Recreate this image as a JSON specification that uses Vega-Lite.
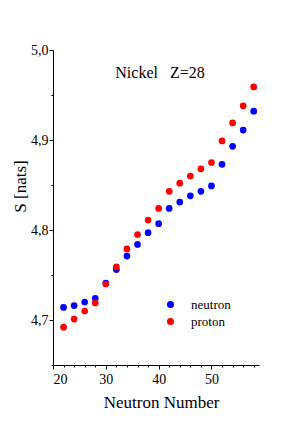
{
  "$schema": "https://vega.github.io/schema/vega-lite/v6.json",
  "autosize": {"type": "none"},
  "width": 206,
  "height": 315,
  "padding": {"left": 53, "top": 50, "right": 41, "bottom": 72},
  "background": "white",
  "title": {
    "text": "Nickel\u00a0\u00a0\u00a0Z=28",
    "font": "Liberation Serif",
    "fontSize": 16,
    "fontWeight": "normal",
    "color": "black",
    "anchor": "middle",
    "offset": -38,
    "dx": 4
  },
  "data": {
    "values": [
      {"N": 22, "S": 4.714, "type": "neutron"},
      {"N": 24, "S": 4.716, "type": "neutron"},
      {"N": 26, "S": 4.720, "type": "neutron"},
      {"N": 28, "S": 4.724, "type": "neutron"},
      {"N": 30, "S": 4.741, "type": "neutron"},
      {"N": 32, "S": 4.756, "type": "neutron"},
      {"N": 34, "S": 4.771, "type": "neutron"},
      {"N": 36, "S": 4.784, "type": "neutron"},
      {"N": 38, "S": 4.797, "type": "neutron"},
      {"N": 40, "S": 4.807, "type": "neutron"},
      {"N": 42, "S": 4.824, "type": "neutron"},
      {"N": 44, "S": 4.831, "type": "neutron"},
      {"N": 46, "S": 4.838, "type": "neutron"},
      {"N": 48, "S": 4.843, "type": "neutron"},
      {"N": 50, "S": 4.849, "type": "neutron"},
      {"N": 52, "S": 4.873, "type": "neutron"},
      {"N": 54, "S": 4.893, "type": "neutron"},
      {"N": 56, "S": 4.911, "type": "neutron"},
      {"N": 58, "S": 4.932, "type": "neutron"},
      {"N": 22, "S": 4.692, "type": "proton"},
      {"N": 24, "S": 4.701, "type": "proton"},
      {"N": 26, "S": 4.710, "type": "proton"},
      {"N": 28, "S": 4.719, "type": "proton"},
      {"N": 30, "S": 4.740, "type": "proton"},
      {"N": 32, "S": 4.759, "type": "proton"},
      {"N": 34, "S": 4.779, "type": "proton"},
      {"N": 36, "S": 4.795, "type": "proton"},
      {"N": 38, "S": 4.811, "type": "proton"},
      {"N": 40, "S": 4.824, "type": "proton"},
      {"N": 42, "S": 4.843, "type": "proton"},
      {"N": 44, "S": 4.852, "type": "proton"},
      {"N": 46, "S": 4.860, "type": "proton"},
      {"N": 48, "S": 4.868, "type": "proton"},
      {"N": 50, "S": 4.875, "type": "proton"},
      {"N": 52, "S": 4.899, "type": "proton"},
      {"N": 54, "S": 4.919, "type": "proton"},
      {"N": 56, "S": 4.938, "type": "proton"},
      {"N": 58, "S": 4.959, "type": "proton"}
    ]
  },
  "mark": {"type": "circle", "size": 45, "opacity": 1},
  "encoding": {
    "x": {
      "field": "N",
      "type": "quantitative",
      "scale": {"domain": [20, 59], "nice": false, "zero": false},
      "axis": {
        "title": "Neutron Number",
        "values": [20, 22, 24, 26, 28, 30, 32, 34, 36, 38, 40, 42, 44, 46, 48, 50, 52, 54, 56, 58],
        "labelExpr": "datum.value % 10 === 0 ? datum.label : ''",
        "tickSize": {"condition": {"test": "datum.value % 10 === 0", "value": 4}, "value": 2},
        "grid": false,
        "labelPadding": 3,
        "titleX": 108,
        "titleY": 42,
        "titleBaseline": "alphabetic"
      }
    },
    "y": {
      "field": "S",
      "type": "quantitative",
      "scale": {"domain": [4.65, 5.0], "nice": false, "zero": false},
      "axis": {
        "title": "S [nats]",
        "values": [4.65, 4.7, 4.75, 4.8, 4.85, 4.9, 4.95, 5.0],
        "labelExpr": "round(datum.value * 100) % 10 === 0 && datum.value > 4.66 ? replace(format(datum.value, '.1f'), '.', ',') : ''",
        "tickSize": {"condition": {"test": "round(datum.value * 100) % 10 === 0", "value": 4}, "value": 2},
        "grid": false,
        "labelPadding": 1,
        "titleX": -33,
        "titleY": 136,
        "titleAngle": -90,
        "titleAlign": "center",
        "titleBaseline": "middle"
      }
    },
    "color": {
      "field": "type",
      "type": "nominal",
      "scale": {"domain": ["neutron", "proton"], "range": ["#0000ff", "#ff0000"]},
      "legend": {
        "title": null,
        "orient": "none",
        "legendX": 111,
        "legendY": 248,
        "symbolType": "circle",
        "symbolSize": 50,
        "symbolOpacity": 1,
        "labelOffset": 14,
        "labelFont": "Liberation Serif",
        "labelFontSize": 13,
        "labelColor": "black",
        "rowPadding": 3,
        "padding": 0
      }
    }
  },
  "config": {
    "view": {"stroke": null},
    "axis": {
      "domainColor": "black",
      "tickColor": "black",
      "labelColor": "black",
      "titleColor": "black",
      "labelFont": "Liberation Serif",
      "titleFont": "Liberation Serif",
      "labelFontSize": 14,
      "titleFontSize": 17,
      "titleFontWeight": "normal",
      "domainWidth": 1,
      "tickWidth": 1
    }
  }
}
